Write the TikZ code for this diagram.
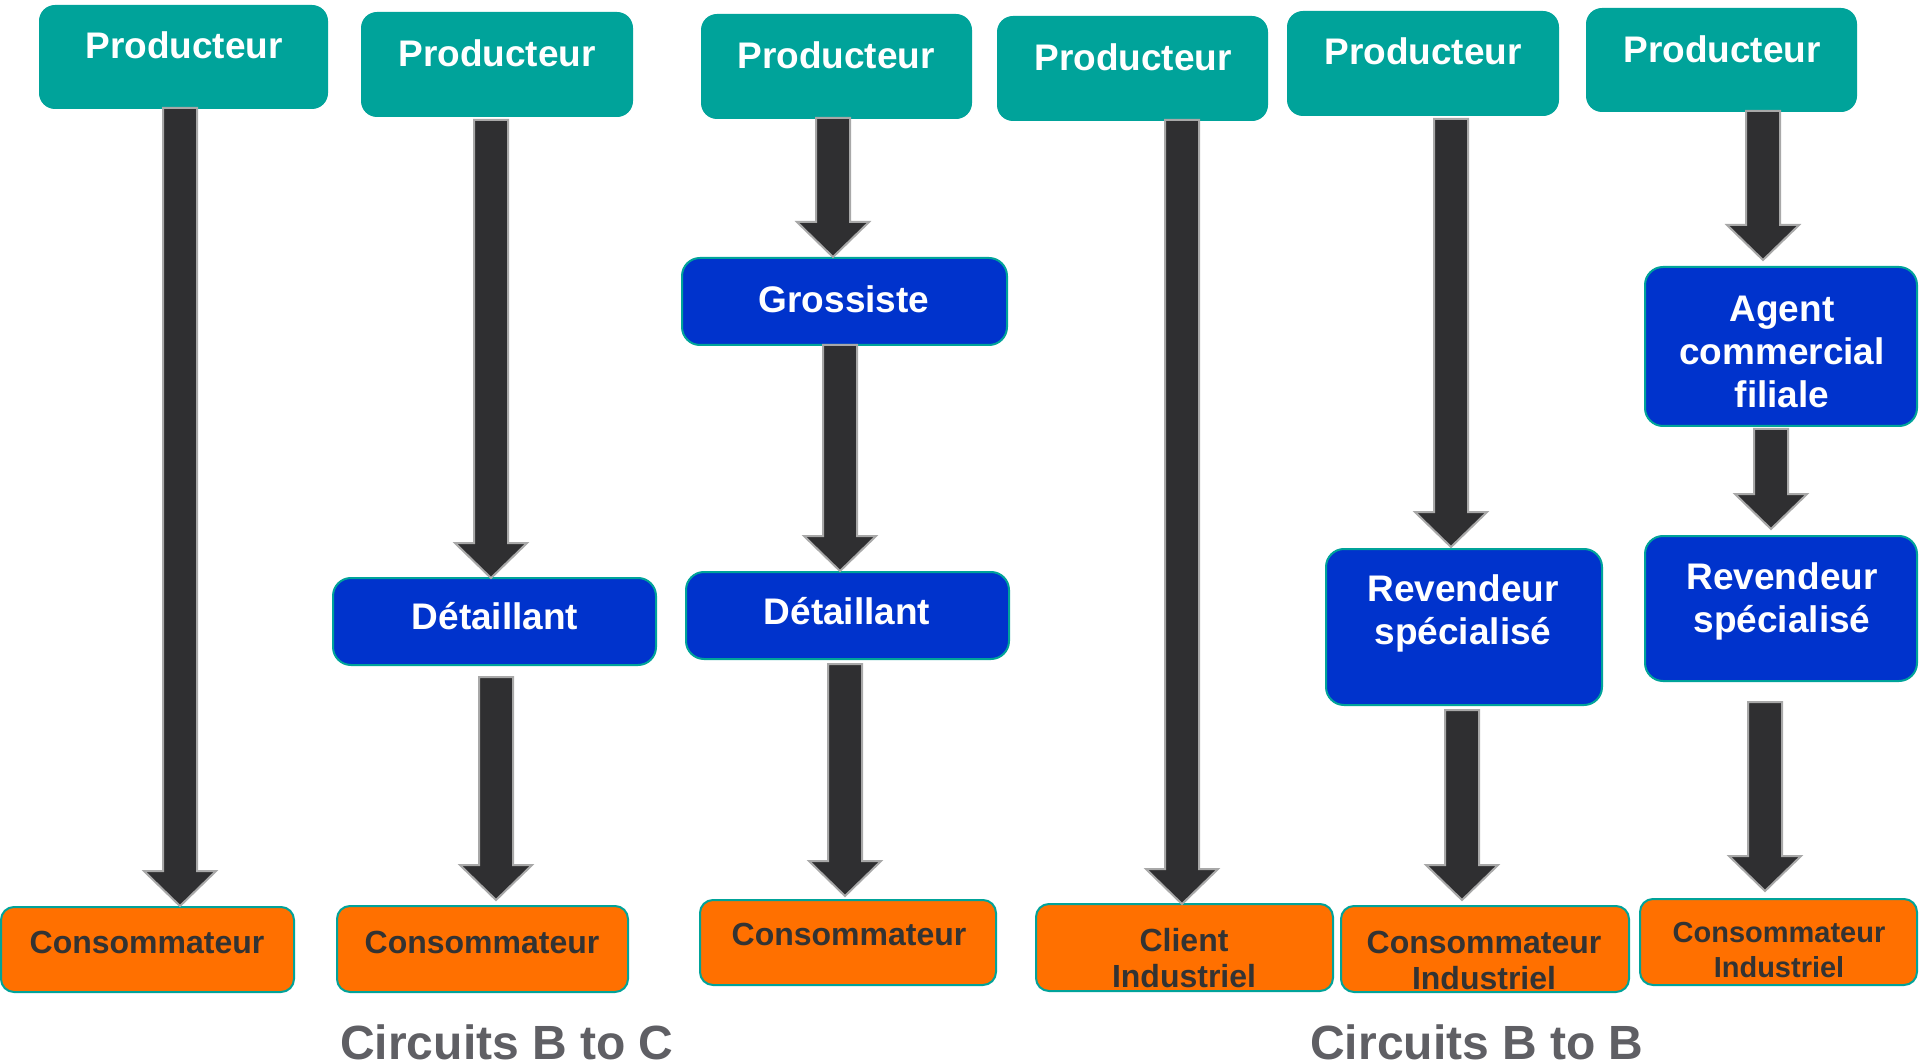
\documentclass[tikz,border=0pt]{standalone}
\usepackage{fontspec}
\setmainfont{Liberation Sans}
\usetikzlibrary{calc}

\definecolor{prodteal}{HTML}{00A39A}
\definecolor{midblue}{HTML}{0033CC}
\definecolor{endorange}{HTML}{FF7000}
\definecolor{arrowdark}{HTML}{2F2F31}
\definecolor{arrowedge}{HTML}{A8A8A8}
\definecolor{endtext}{HTML}{333333}
\definecolor{captiongray}{HTML}{5F5F64}

\tikzset{
  boxbase/.style={rectangle, inner sep=0pt, outer sep=0pt, line width=2pt},
  prodbox/.style={boxbase, fill=prodteal, draw=prodteal, rounded corners=15pt},
  midbox/.style={boxbase, fill=midblue, draw=prodteal, rounded corners=18pt},
  endbox/.style={boxbase, fill=endorange, draw=prodteal, rounded corners=13pt},
  lighttext/.style={text=white, font=\bfseries\fontsize{37}{43}\selectfont, align=center, inner sep=0pt},
  darktext/.style={text=endtext, font=\bfseries\fontsize{32}{36}\selectfont, align=center, inner sep=0pt},
  smalldarktext/.style={text=endtext, font=\bfseries\fontsize{29}{35}\selectfont, align=center, inner sep=0pt},
  caption/.style={text=captiongray, font=\bfseries\fontsize{48}{56}\selectfont, inner sep=0pt},
  fatarrow/.style={fill=arrowdark, draw=arrowedge, line width=2pt, line join=miter},
}

% box from its corners: style, name, x1, y1, x2, y2
\newcommand\diagbox[6]{%
  \node[#1, minimum width={(#5)-(#3)}, minimum height={(#6)-(#4)}] (#2)
    at ({((#3)+(#5))/2},{((#4)+(#6))/2}) {};}

% block arrow: x of its axis, source node, target node, gap under source, gap over target
\newcommand\flowarrow[5]{%
  \path[fatarrow] let \p1=(#2.south), \p2=(#3.north) in
    (#1pt-17pt,\y1-#4pt) -- (#1pt+17pt,\y1-#4pt) -- (#1pt+17pt,\y2+#5pt+35pt)
    -- (#1pt+36pt,\y2+#5pt+35pt) -- (#1pt,\y2+#5pt) -- (#1pt-36pt,\y2+#5pt+35pt)
    -- (#1pt-17pt,\y2+#5pt+35pt) -- cycle;}

\begin{document}
\begin{tikzpicture}[x=1pt, y=-1pt]
\useasboundingbox[fill=white] (0,0) rectangle (1920,1064);

% producers
\diagbox{prodbox}{p1}{40}{6}{327}{108}
\diagbox{prodbox}{p2}{362}{13}{632}{116}
\diagbox{prodbox}{p3}{702}{15}{971}{118}
\diagbox{prodbox}{p4}{998}{17}{1267}{120}
\diagbox{prodbox}{p5}{1288}{12}{1558}{115}
\diagbox{prodbox}{p6}{1587}{9}{1856}{111}

% intermediaries
\diagbox{midbox}{d2}{333}{578}{656}{665}
\diagbox{midbox}{g3}{682}{258}{1007}{345}
\diagbox{midbox}{d3}{686}{572}{1009}{659}
\diagbox{midbox}{r5}{1326}{549}{1602}{705}
\diagbox{midbox}{a6}{1645}{267}{1917}{426}
\diagbox{midbox}{r6}{1645}{536}{1917}{681}

% end customers
\diagbox{endbox}{c1}{1}{907}{294}{992}
\diagbox{endbox}{c2}{337}{906}{628}{992}
\diagbox{endbox}{c3}{700}{900}{996}{985}
\diagbox{endbox}{c4}{1036}{904}{1333}{991}
\diagbox{endbox}{c5}{1341}{906}{1629}{992}
\diagbox{endbox}{c6}{1640}{899}{1917}{985}

% labels
\node[lighttext] (tp1) at (184,45) {Producteur};
\node[lighttext] (tp2) at (497,53) {Producteur};
\node[lighttext] (tp3) at (836,55) {Producteur};
\node[lighttext] (tp4) at (1133,57) {Producteur};
\node[lighttext] (tp5) at (1423,51) {Producteur};
\node[lighttext] (tp6) at (1722,49) {Producteur};

\node[lighttext] (td2) at (495,616) {Détaillant};
\node[lighttext] (tg3) at (844,299) {Grossiste};
\node[lighttext] (td3) at (847,611) {Détaillant};
\node[lighttext] (tr5) at (1463,613) {Revendeur\\spécialisé};
\node[lighttext] (ta6) at (1782,352) {Agent\\commercial\\filiale};
\node[lighttext] (tr6) at (1782,601) {Revendeur\\spécialisé};

\node[darktext] (tc1) at (147,942) {Consommateur};
\node[darktext] (tc2) at (482,942) {Consommateur};
\node[darktext] (tc3) at (849,934) {Consommateur};
\node[darktext] (tc4) at (1184,958) {Client\\Industriel};
\node[darktext] (tc5) at (1484,960) {Consommateur\\Industriel};
\node[smalldarktext] (tc6) at (1779,950) {Consommateur\\Industriel};

% flows
\flowarrow{180}{p1}{c1}{0}{1}
\flowarrow{491}{p2}{d2}{4}{0}
\flowarrow{496}{d2}{c2}{12}{6}
\flowarrow{833}{p3}{g3}{0}{1}
\flowarrow{840}{g3}{d3}{0}{1}
\flowarrow{845}{d3}{c3}{5}{4}
\flowarrow{1182}{p4}{c4}{0}{0}
\flowarrow{1451}{p5}{r5}{4}{2}
\flowarrow{1462}{r5}{c5}{5}{6}
\flowarrow{1763}{p6}{a6}{0}{7}
\flowarrow{1771}{a6}{r6}{3}{7}
\flowarrow{1765}{r6}{c6}{21}{8}

% group captions
\node[caption] (capbc) at (507,1042) {Circuits B to C};
\node[caption] (capbb) at (1477,1042) {Circuits B to B};
\end{tikzpicture}
\end{document}
